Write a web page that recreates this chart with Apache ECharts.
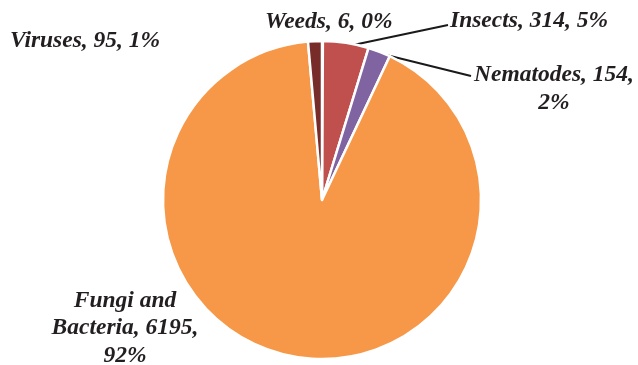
<!DOCTYPE html>
<html>
<head>
<meta charset="utf-8">
<script src="https://cdn.jsdelivr.net/npm/echarts@6/dist/echarts.min.js"></script>
<style>
  html, body { margin: 0; padding: 0; background: #ffffff; }
  #chart { width: 638px; height: 365px; }
</style>
</head>
<body>
<div id="chart"></div>
<script>
// Crop-loss causes: counts per category, clockwise from 12 o'clock
const categories = ['Weeds', 'Insects', 'Nematodes', 'Fungi and Bacteria', 'Viruses'];
const counts = [6, 314, 154, 6195, 95];
const sliceColors = ['#4BACC6', '#C0504D', '#8064A2', '#F69848', '#772C2A'];

const PIE_CENTER = [322, 200];

// Where each caption sits and whether a leader line joins it to its slice
const captionPlacement = {
  'Weeds':              { x: 265, y: 22,  align: 'left',   leader: null },
  'Insects':            { x: 450, y: 21,  align: 'left',   leader: [448, 25] },
  'Nematodes':          { x: 554, y: 89,  align: 'center', leader: [471, 76] },
  'Fungi and Bacteria': { x: 125, y: 328, align: 'center', leader: null },
  'Viruses':            { x: 10,  y: 41,  align: 'left',   leader: null }
};

function captionText(p) {
  const pct = p.percent + '%';
  if (p.name === 'Fungi and Bacteria') return 'Fungi and\nBacteria, ' + p.value + ',\n' + pct;
  if (p.name === 'Nematodes') return p.name + ', ' + p.value + ',\n' + pct;
  return p.name + ', ' + p.value + ', ' + pct;
}

// Slide a point on the rim a few degrees clockwise, so leaders leave
// the slice on the side facing their caption
function turnClockwise(pt, deg) {
  const dx = pt[0] - PIE_CENTER[0];
  const dy = pt[1] - PIE_CENTER[1];
  const a = deg * Math.PI / 180;
  return [
    PIE_CENTER[0] + dx * Math.cos(a) - dy * Math.sin(a),
    PIE_CENTER[1] + dx * Math.sin(a) + dy * Math.cos(a)
  ];
}

const chart = echarts.init(document.getElementById('chart'), null, { renderer: 'canvas' });

chart.setOption({
  animation: false,
  backgroundColor: '#ffffff',
  series: [{
    type: 'pie',
    center: PIE_CENTER,
    radius: 159,
    startAngle: 90,
    clockwise: true,
    avoidLabelOverlap: false,
    percentPrecision: 0,
    itemStyle: { borderColor: '#ffffff', borderWidth: 2.5 },
    emphasis: { disabled: true },
    label: {
      show: true,
      position: 'outside',
      formatter: captionText,
      fontFamily: '"Liberation Serif", "DejaVu Serif", serif',
      fontStyle: 'italic',
      fontWeight: 'bold',
      fontSize: 23.5,
      lineHeight: 27.5,
      color: '#231F20'
    },
    labelLine: {
      show: true,
      lineStyle: { color: '#1a1a1a', width: 2 }
    },
    labelLayout: function (params) {
      const name = categories[params.dataIndex];
      const spot = captionPlacement[name];
      const out = { x: spot.x, y: spot.y, align: spot.align, verticalAlign: 'middle' };
      if (spot.leader && params.labelLinePoints) {
        const start = turnClockwise(params.labelLinePoints[0], 3.5);
        out.labelLinePoints = [start, spot.leader, spot.leader];
      }
      return out;
    },
    data: categories.map(function (name, i) {
      const placed = captionPlacement[name];
      return {
        name: name,
        value: counts[i],
        itemStyle: { color: sliceColors[i] },
        labelLine: { show: !!placed.leader }
      };
    })
  }]
});
</script>
</body>
</html>
